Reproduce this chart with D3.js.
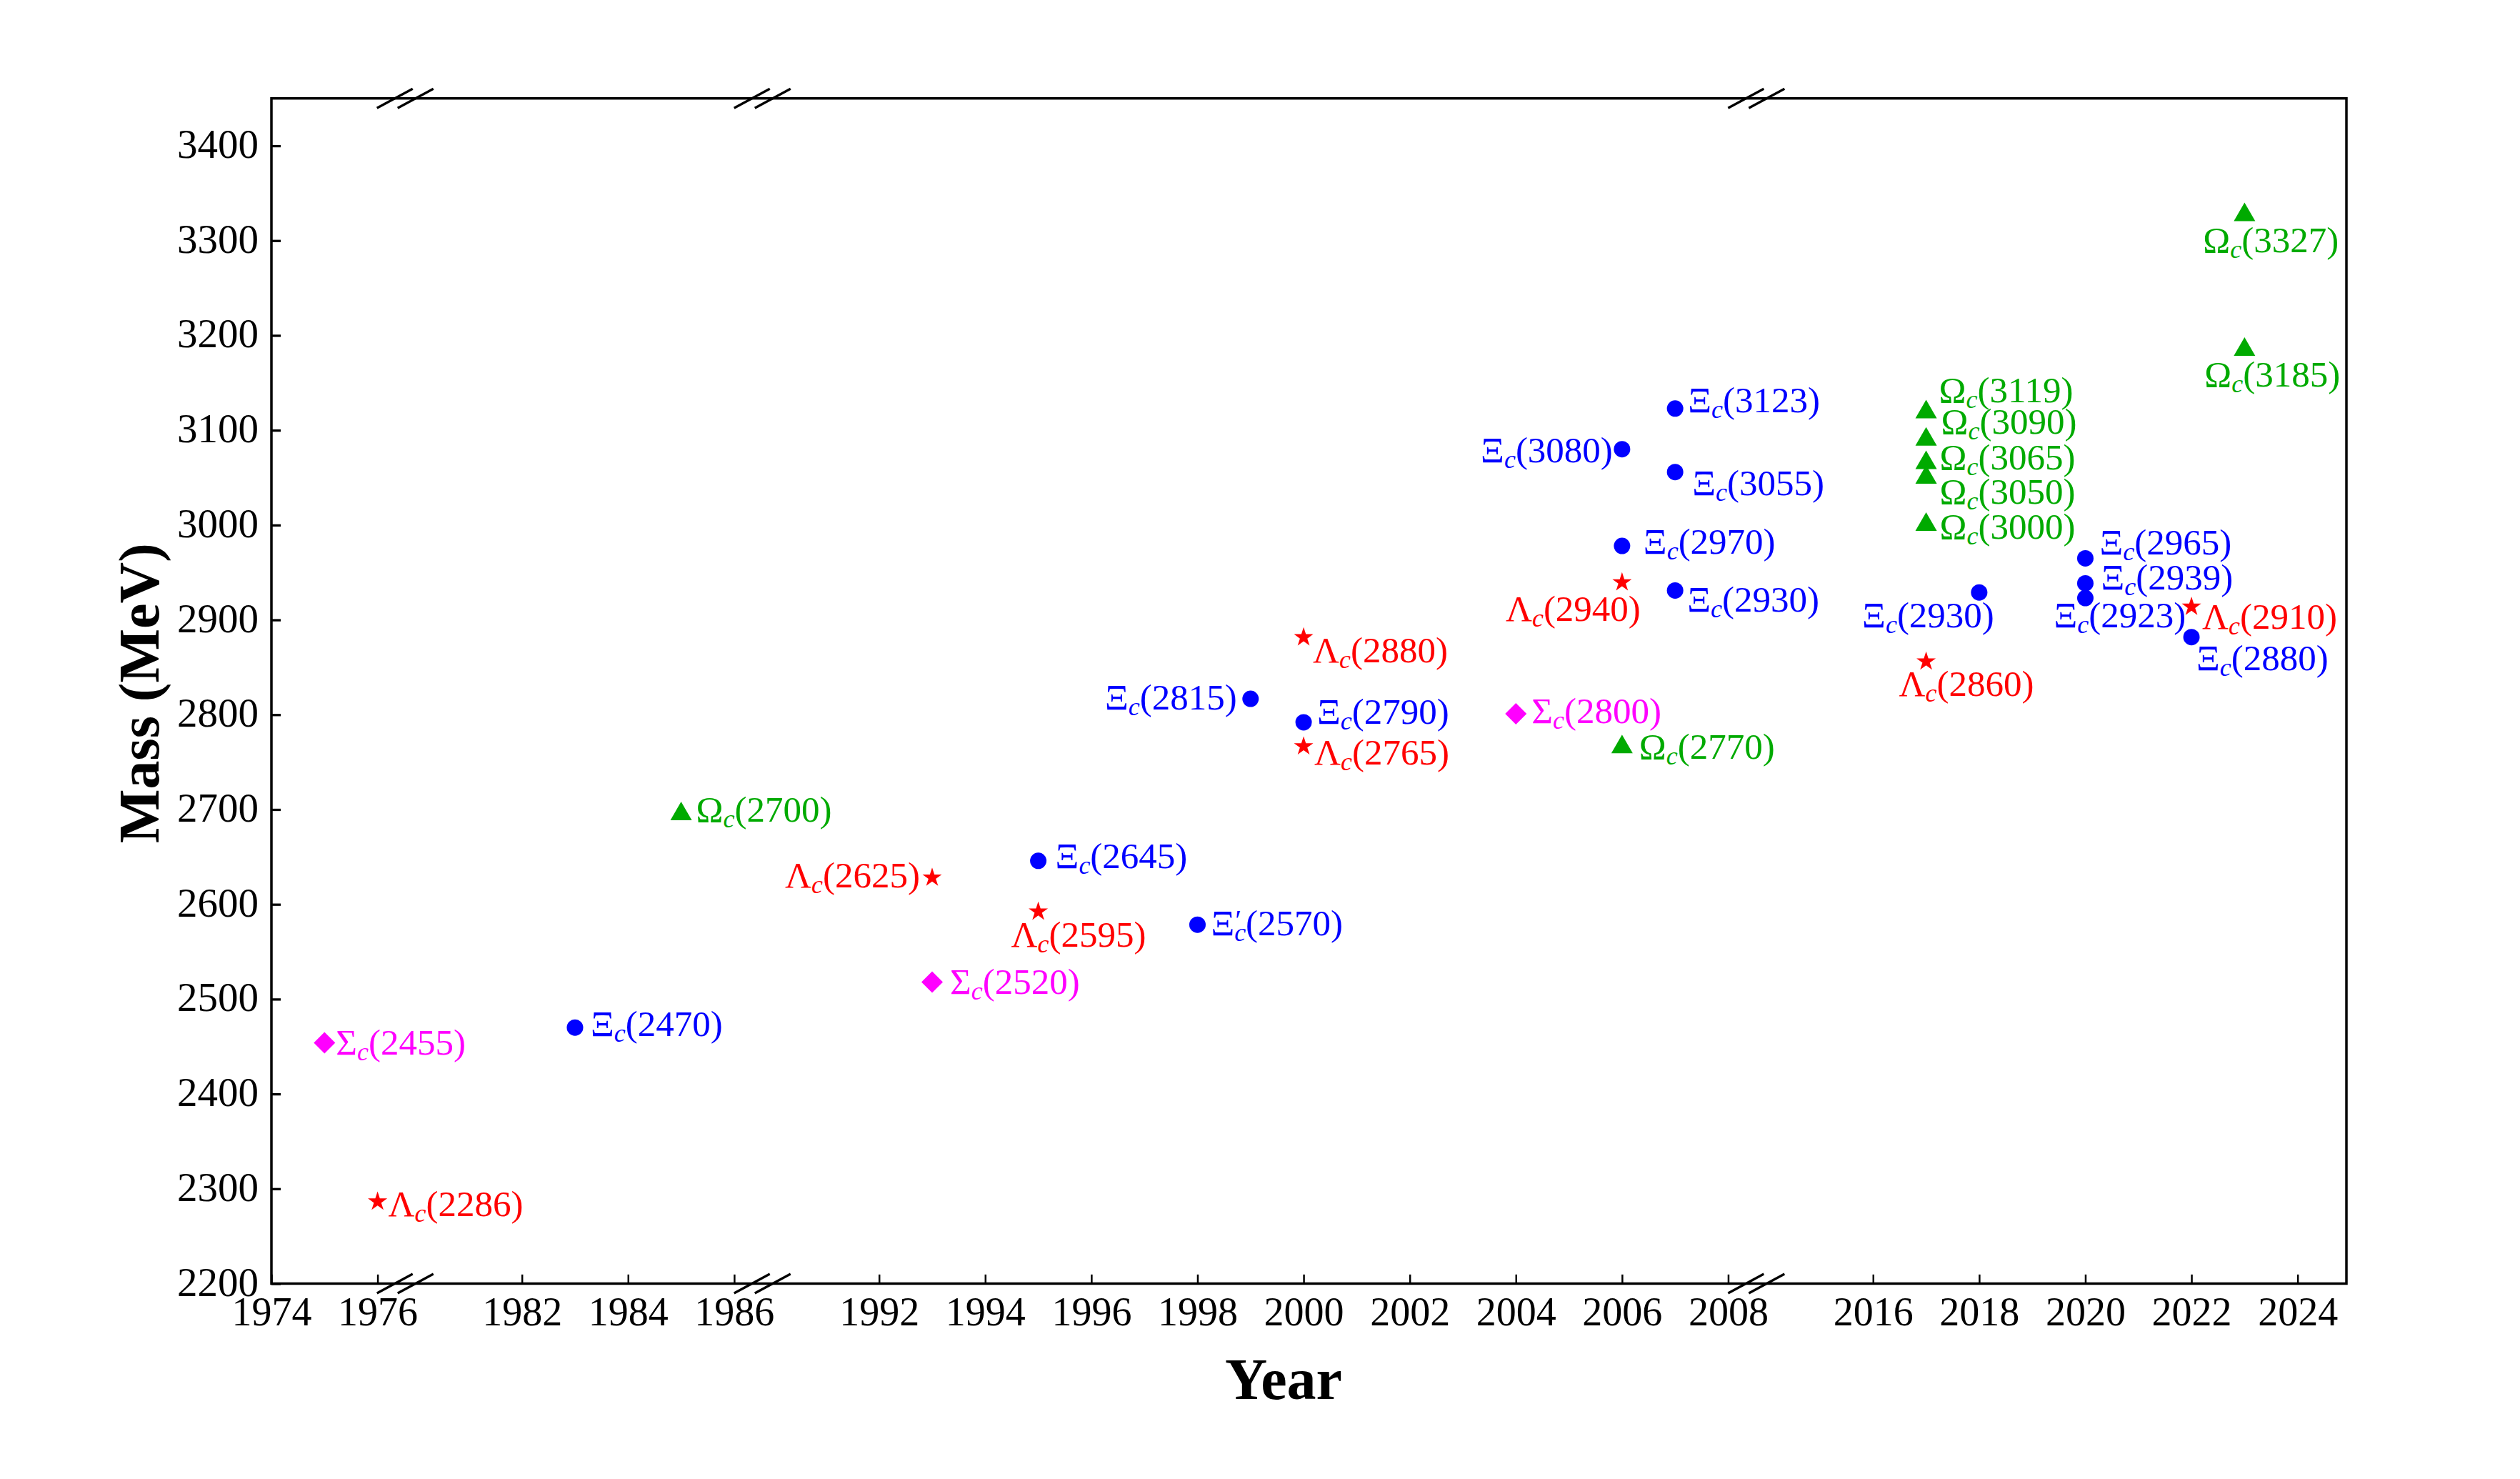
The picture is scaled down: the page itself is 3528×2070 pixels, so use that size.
<!DOCTYPE html>
<html>
<head>
<meta charset="utf-8">
<script src="https://cdn.jsdelivr.net/npm/d3@7"></script>
<style>
  body { margin: 0; background: #fff; }
</style>
</head>
<body>
<svg id="chart"></svg>
<script>
// Lambda_c states (red stars)
var lambdaYears = [1976, 1993, 1995, 2000, 2000, 2006, 2017, 2022];
var lambdaMasses = [2286.5, 2628.1, 2592.3, 2881.6, 2766.6, 2939.6, 2856.1, 2913.8];
var lambdaNames = ["2286", "2625", "2595", "2880", "2765", "2940", "2860", "2910"];

// Sigma_c states (magenta diamonds)
var sigmaYears = [1975, 1993, 2004];
var sigmaMasses = [2454, 2518, 2801];
var sigmaNames = ["2455", "2520", "2800"];

// Xi_c states (blue circles)
var xiYears = [1983, 1995, 1998, 1999, 2000, 2006, 2006, 2007, 2007, 2007, 2018, 2020, 2020, 2020, 2022];
var xiMasses = [2470, 2645.9, 2578.5, 2816.7, 2792, 3080, 2978, 3122.9, 3055.9, 2931, 2928.9, 2964.9, 2938.5, 2923, 2881.8];
var xiNames = ["2470", "2645", "2570", "2815", "2790", "3080", "2970", "3123", "3055", "2930", "2930", "2965", "2939", "2923", "2880"];
var xiPrimed = [false, false, true, false, false, false, false, false, false, false, false, false, false, false, false];

// Omega_c states (green triangles)
var omegaYears = [1985, 2006, 2017, 2017, 2017, 2017, 2017, 2023, 2023];
var omegaMasses = [2695.2, 2765.9, 3000.4, 3050.2, 3065.6, 3090.2, 3119.1, 3185.1, 3327.1];
var omegaNames = ["2700", "2770", "3000", "3050", "3065", "3090", "3119", "3185", "3327"];

// axis ticks
var xTicks = [1974, 1976, 1982, 1984, 1986, 1992, 1994, 1996, 1998, 2000, 2002, 2004, 2006, 2008, 2016, 2018, 2020, 2022, 2024];
var yTicks = [2200, 2300, 2400, 2500, 2600, 2700, 2800, 2900, 3000, 3100, 3200, 3300, 3400];

// broken x axis: pieces [start, end]
var xPieces = [[1974, 1976.52], [1979.8, 1986.53], [1989.8, 2008.53], [2013.8, 2024.92]];

// label placement (dx, dy from the point, anchor)
var lambdaPlace = [[15, 20], [-17, 14, "end"], [-38, 49], [13, 35], [15, 25], [26, 54, "end"], [-38, 48], [15, 31]];
var sigmaPlace = [[16, 17], [25, 16], [22, 13]];
var xiPlace = [[22, 12], [24, 10], [19, 15], [-19, 15, "end"], [19, 2], [-13, 18, "end"], [30, 11], [18, 5],
  [24, 32], [17, 30], [21, 49, "end"], [20, -5], [22, 9], [-44, 41], [7, 46]];
var omegaPlace = [[21, 11], [24, 16], [19, 20], [19, 37], [19, 9], [21, -8], [18, -14], [-56, 52], [-58, 52]];

var W = 3528, H = 2070;
var L = 380, R = 3285, T = 137.7, B = 1796.5;
var FONT = "'Liberation Serif', 'Times New Roman', serif";

var svg = d3.select("#chart")
  .attr("width", W)
  .attr("height", H)
  .style("background", "#fff");

// piecewise scale for the broken axis
var totalYears = d3.sum(xPieces, function (p) { return p[1] - p[0]; });
var pxPerYear = (R - L) / totalYears;
var xDom = [], xRng = [], pos = L;
xPieces.forEach(function (p) {
  xDom.push(p[0]); xRng.push(pos);
  pos += (p[1] - p[0]) * pxPerYear;
  xDom.push(p[1]); xRng.push(pos);
});
var x = d3.scaleLinear().domain(xDom).range(xRng);
var y = d3.scaleLinear().domain([2200, 3450]).range([B, T]);

// axes
var xAxis = svg.append("g")
  .attr("transform", "translate(0," + B + ")")
  .call(d3.axisBottom(x).tickValues(xTicks).tickFormat(d3.format("d")).tickSizeInner(-12.7).tickSizeOuter(0));
xAxis.select(".domain").remove();
xAxis.selectAll(".tick line").attr("stroke", "#000").attr("stroke-width", 2.5);
xAxis.selectAll(".tick text")
  .attr("y", 58.5).attr("dy", null)
  .attr("fill", "#000")
  .style("font-family", FONT).style("font-size", "56px");

var yAxis = svg.append("g")
  .attr("transform", "translate(" + L + ",0)")
  .call(d3.axisLeft(y).tickValues(yTicks).tickFormat(d3.format("d")).tickSizeInner(-13).tickSizeOuter(0));
yAxis.select(".domain").remove();
yAxis.selectAll(".tick line").attr("stroke", "#000").attr("stroke-width", 3.3);
yAxis.selectAll(".tick text")
  .attr("x", -18).attr("y", 16.5).attr("dy", null)
  .attr("fill", "#000")
  .style("font-family", FONT).style("font-size", "57px");

// frame
svg.append("rect")
  .attr("x", L).attr("y", T)
  .attr("width", R - L).attr("height", B - T)
  .attr("fill", "none")
  .attr("stroke", "#000")
  .attr("stroke-width", 3.5);

// break marks on top and bottom axis
xPieces.slice(1).forEach(function (p) {
  var cx = x(p[0]);
  [T, B].forEach(function (cy) {
    [-14.5, 14.5].forEach(function (off) {
      svg.append("line")
        .attr("x1", cx + off - 25).attr("y1", cy + 13.5)
        .attr("x2", cx + off + 25).attr("y2", cy - 13.5)
        .attr("stroke", "#000")
        .attr("stroke-width", 3.3);
    });
  });
});

// axis titles
svg.append("text")
  .attr("x", 1797).attr("y", 1958)
  .attr("text-anchor", "middle")
  .style("font-family", FONT).style("font-size", "82px").style("font-weight", "bold")
  .text("Year");

svg.append("text")
  .attr("transform", "translate(222,970) rotate(-90)")
  .attr("text-anchor", "middle")
  .style("font-family", FONT).style("font-size", "80px").style("font-weight", "bold")
  .text("Mass (MeV)");

function addLabel(px, py, greek, name, prime, place, color) {
  var t = svg.append("text")
    .attr("x", px + place[0])
    .attr("y", py + place[1])
    .attr("text-anchor", place[2] || "start")
    .attr("fill", color)
    .style("font-family", FONT)
    .style("font-size", "51px");
  t.append("tspan").text(greek);
  t.append("tspan").attr("dy", 8).style("font-style", "italic").style("font-size", "36px").text("c");
  if (prime) {
    t.append("tspan").attr("dx", -15).attr("dy", -16).style("font-size", "40px").text("\u2032");
    t.append("tspan").attr("dx", 6).attr("dy", 8).text("(" + name + ")");
  } else {
    t.append("tspan").attr("dy", -8).text("(" + name + ")");
  }
}

function drawFamily(years, masses, names, place, symbol, size, rotate, color, greek, primed) {
  var g = svg.append("g");
  years.forEach(function (yr, i) {
    var px = x(yr), py = y(masses[i]);
    g.append("path")
      .attr("d", d3.symbol().type(symbol).size(size)())
      .attr("transform", "translate(" + px + "," + py + ")" + (rotate ? " rotate(" + rotate + ")" : ""))
      .attr("fill", color);
    addLabel(px, py, greek, names[i], primed ? primed[i] : false, place[i], color);
  });
}

drawFamily(sigmaYears, sigmaMasses, sigmaNames, sigmaPlace, d3.symbolSquare, 450, 45, "#ff00ff", "\u03A3");
drawFamily(xiYears, xiMasses, xiNames, xiPlace, d3.symbolCircle, 415, 0, "#0000ff", "\u039E", xiPrimed);
drawFamily(omegaYears, omegaMasses, omegaNames, omegaPlace, d3.symbolTriangle, 390, 0, "#00aa00", "\u03A9");
drawFamily(lambdaYears, lambdaMasses, lambdaNames, lambdaPlace, d3.symbolStar, 226, 0, "#ff0000", "\u039B");
</script>
</body>
</html>
